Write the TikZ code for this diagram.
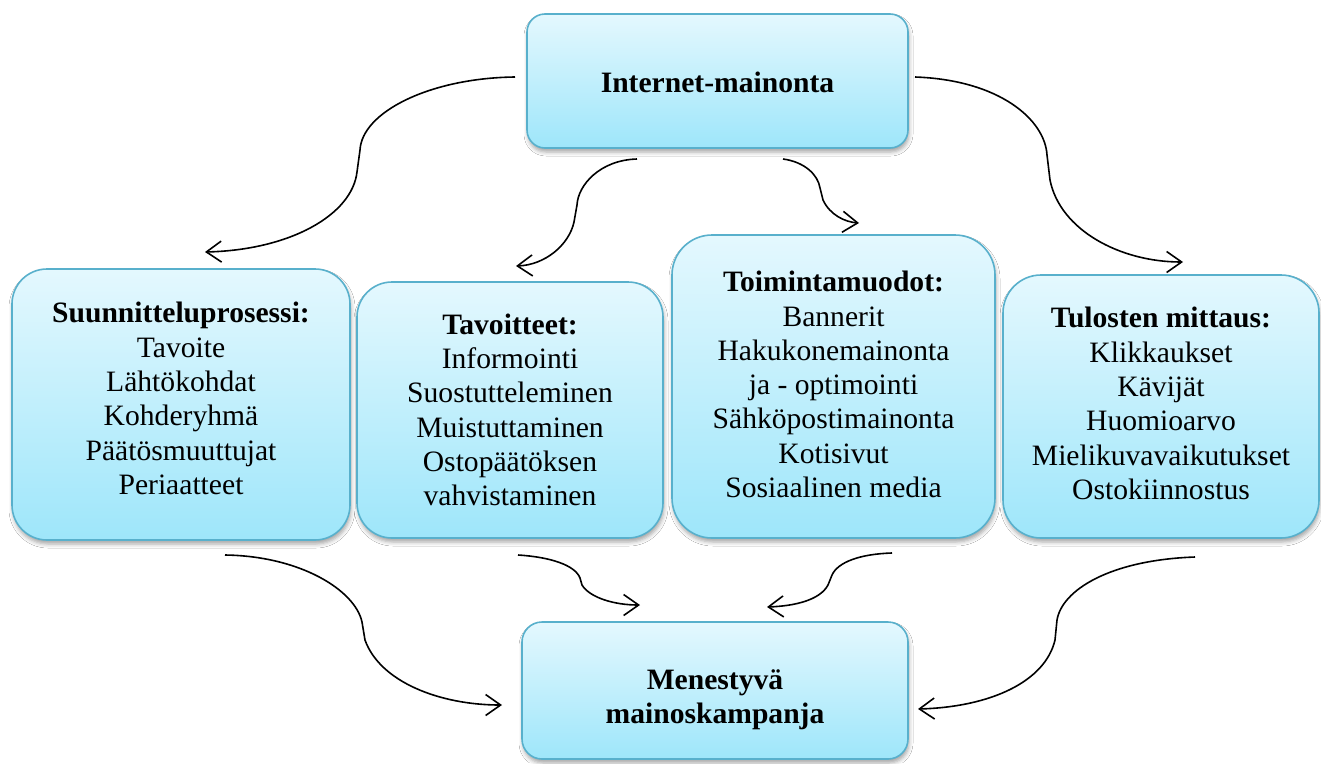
\documentclass[tikz,border=0pt]{standalone}
\usepackage{fontspec}
\setmainfont{Liberation Serif}
\usetikzlibrary{arrows.meta,shadows.blur}
\definecolor{boxtop}{RGB}{228,248,254}
\definecolor{boxbot}{RGB}{158,230,250}
\definecolor{boxline}{RGB}{88,176,204}
\tikzset{
  box/.style={draw=boxline, line width=1.6pt, top color=boxtop, bottom color=boxbot,
    inner sep=0pt,
    blur shadow={shadow xshift=1pt, shadow yshift=-4pt, shadow blur radius=4pt, shadow opacity=35}},
  boxtext/.style={align=center, inner sep=0pt, font=\fontsize{29.6pt}{34.3pt}\selectfont},
  arr/.style={line width=1.6pt, -{Straight Barb[length=15pt,width=21pt]}},
}
\begin{document}
\begin{tikzpicture}[x=1pt,y=-1pt]
\useasboundingbox[fill=white] (0,0) rectangle (1321,763);

\node[box, minimum width=381pt, minimum height=134pt, rounded corners=18pt] (inet) at (717.5,81) {};
\node[box, minimum width=338pt, minimum height=271pt, rounded corners=35pt] (suun) at (181,404.5) {};
\node[box, minimum width=306pt, minimum height=256pt, rounded corners=35pt] (tav) at (510,410) {};
\node[box, minimum width=323pt, minimum height=303pt, rounded corners=40pt] (toim) at (833.5,386.5) {};
\node[box, minimum width=316pt, minimum height=263pt, rounded corners=38pt] (tul) at (1161,406.5) {};
\node[box, minimum width=386pt, minimum height=137pt, rounded corners=20pt] (men) at (715,690.5) {};

\node[boxtext] (inett) at ([yshift=-1pt]inet.center) {\textbf{Internet-mainonta}};
\node[boxtext] (suunt) at ([yshift=6pt]suun.center)
  {\textbf{Suunnitteluprosessi:}\\Tavoite\\Lähtökohdat\\Kohderyhmä\\Päätösmuuttujat\\Periaatteet};
\node[boxtext] (tavt) at (tav.center)
  {\textbf{Tavoitteet:}\\Informointi\\Suostutteleminen\\Muistuttaminen\\Ostopäätöksen\\vahvistaminen};
\node[boxtext] (toimt) at ([yshift=2pt]toim.center)
  {\textbf{Toimintamuodot:}\\Bannerit\\Hakukonemainonta\\ja - optimointi\\Sähköpostimainonta\\Kotisivut\\Sosiaalinen media};
\node[boxtext] (tult) at ([yshift=3pt]tul.center)
  {\textbf{Tulosten mittaus:}\\Klikkaukset\\Kävijät\\Huomioarvo\\Mielikuvavaikutukset\\Ostokiinnostus};
\node[boxtext] (ment) at ([yshift=-9pt]men.center)
  {\textbf{Menestyvä}\\\textbf{mainoskampanja}};

% connector end points
\coordinate (a1s) at (515,77);   \coordinate (a1e) at (205,252);
\coordinate (a2s) at (915,77);   \coordinate (a2e) at (1183,262);
\coordinate (a3s) at (637,159);  \coordinate (a3e) at (516,266);
\coordinate (a4s) at (783,159);  \coordinate (a4e) at (859,223);
\coordinate (a5s) at (225,555);  \coordinate (a5e) at (502,705);
\coordinate (a6s) at (1195,557); \coordinate (a6e) at (918,709);
\coordinate (a7s) at (518,555);  \coordinate (a7e) at (640,605);
\coordinate (a8s) at (892,553);  \coordinate (a8e) at (767,607);

\draw[arr] (a1s) .. controls (430,78) and (362,112) .. (360,150) -- (357,172) .. controls (352,215) and (290,250) .. (a1e);
\draw[arr] (a2s) .. controls (1000,80) and (1045,120) .. (1047,155) -- (1050,180) .. controls (1060,230) and (1120,262) .. (a2e);
\draw[arr] (a3s) .. controls (600,160) and (578,185) .. (577,205) -- (574,222) .. controls (569,245) and (545,265) .. (a3e);
\draw[arr] (a4s) .. controls (805,162) and (818,175) .. (820,188) -- (823,200) .. controls (830,215) and (845,222) .. (a4e);
\draw[arr] (a5s) .. controls (300,556) and (355,590) .. (362,622) -- (365,640) .. controls (380,682) and (440,705) .. (a5e);
\draw[arr] (a6s) .. controls (1110,560) and (1062,590) .. (1057,620) -- (1055,640) .. controls (1045,682) and (990,707) .. (a6e);
\draw[arr] (a7s) .. controls (550,557) and (575,565) .. (580,578) -- (582,585) .. controls (590,598) and (615,605) .. (a7e);
\draw[arr] (a8s) .. controls (860,554) and (838,562) .. (832,575) -- (828,585) .. controls (820,600) and (795,606) .. (a8e);
\end{tikzpicture}
\end{document}
